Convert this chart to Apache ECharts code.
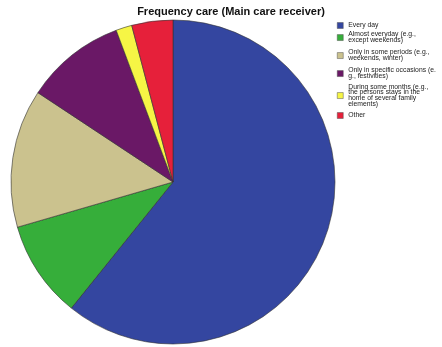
<!DOCTYPE html>
<html>
<head>
<meta charset="utf-8">
<script src="https://cdn.jsdelivr.net/npm/echarts@6/dist/echarts.min.js"></script>
<style>html,body{margin:0;padding:0;background:#fff}#c{width:442px;height:347px}</style>
</head>
<body>
<div id="c"></div>
<script>
var categories = [
  "Every day",
  "Almost everyday (e.g.,\nexcept weekends)",
  "Only in some periods (e.g.,\nweekends, winter)",
  "Only in specific occasions (e.\ng., festivities)",
  "During some months (e.g.,\nthe persons stays in the\nhome of several family\nelements)",
  "Other"
];
var values = [60.8, 9.7, 13.8, 10.0, 1.6, 4.1];
var colors = ["#3446a0", "#36ae3a", "#cbc28e", "#6a1866", "#f6f545", "#e6203a"];
var legendCenters = [25, 37, 55, 73, 95, 115];

var chart = echarts.init(document.getElementById('c'), null, {renderer: 'canvas'});
var data = categories.map(function (c, i) {
  return {name: c, value: values[i], itemStyle: {color: colors[i]}};
});
var LH = 5.9;
var legends = categories.map(function (c, i) {
  var lines = c.split("\n").length;
  var h = Math.max(lines * LH, 6);
  return {
    orient: 'vertical',
    left: 337,
    top: legendCenters[i] - h / 2,
    itemWidth: 6,
    itemHeight: 6,
    itemGap: 0,
    padding: 0,
    icon: 'rect',
    selectedMode: false,
    data: [c],
    itemStyle: {borderColor: '#555', borderWidth: 0.5},
    textStyle: {fontSize: 6.8, lineHeight: LH, color: '#222', fontFamily: 'Liberation Sans, Arial', padding: [0,0,0,0]}
  };
});
chart.setOption({
  backgroundColor: '#fff',
  animation: false,
  title: {
    text: 'Frequency care (Main care receiver)',
    left: 231,
    textAlign: 'center',
    top: 6,
    padding: 0,
    textStyle: {fontSize: 11, fontWeight: 'bold', color: '#111', fontFamily: 'Liberation Sans, Arial'}
  },
  legend: legends,
  series: [{
    type: 'pie',
    center: [173, 182],
    radius: [0, 162],
    startAngle: 90,
    clockwise: true,
    label: {show: false},
    labelLine: {show: false},
    emphasis: {disabled: true},
    itemStyle: {borderColor: '#333', borderWidth: 0.6},
    data: data
  }]
});
</script>
</body>
</html>
